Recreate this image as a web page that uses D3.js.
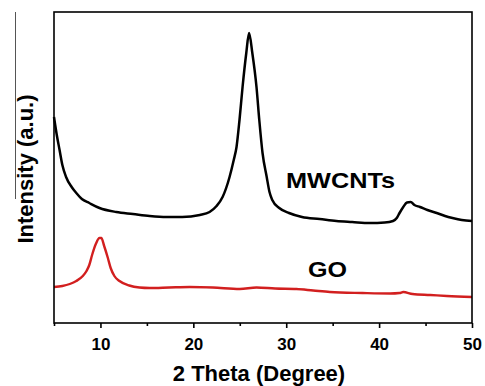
<!DOCTYPE html>
<html>
<head>
<meta charset="utf-8">
<script src="https://cdn.jsdelivr.net/npm/d3@7"></script>
<style>
  html, body { margin: 0; padding: 0; background: #fff; }
  svg { display: block; }
  text { font-family: "Liberation Sans", Arial, sans-serif; font-weight: bold; }
</style>
</head>
<body>
<figure id="xrd" style="margin:0"></figure>
<script>
// MWCNTs pattern (2 theta in degrees, intensity in a.u.)
const mwcntTheta = [5.0, 5.3, 5.6, 5.9, 6.3, 6.9, 7.4, 8.0, 8.8, 9.9, 11.7, 13.5, 15.3, 17.1, 18.8, 20.7,
  21.75, 22.5, 23.15, 23.9, 24.35, 24.65, 24.97, 25.3, 25.7, 26.0, 26.35, 26.8, 27.1, 27.45, 27.9,
  28.2, 28.5, 29.25, 30.3, 31.7, 33.6, 35.4, 37.1, 39.0, 40.6, 41.5, 41.9, 42.2, 42.6, 43.0, 43.4,
  43.8, 44.4, 45.2, 46.2, 47.1, 47.9, 48.9, 50.0];
const mwcntInt = [206, 188, 173, 158, 146, 136, 130, 124, 120, 115, 111, 109, 107, 106, 106, 108,
  111, 117, 126, 146, 163, 176, 203, 236, 270, 290, 270, 236, 203, 170, 146,
  131, 123, 115, 110, 106, 104, 102, 101, 100, 100.5, 102, 105, 110, 116, 120.5, 121,
  118, 116, 113, 110, 107, 105, 103, 102];

// GO pattern
const goTheta = [5.0, 5.9, 6.7, 7.4, 8.1, 8.5, 8.8, 9.1, 9.5, 9.9, 10.1, 10.4, 10.8, 11.1, 11.5, 12.05,
  13.1, 14.2, 15.3, 17.4, 19.6, 22.1, 25.0, 26.8, 28.8, 31.1, 32.9, 34.7, 38.2, 41.2, 42.2, 42.6,
  43.6, 45.5, 47.3, 50.0];
const goInt = [36, 37, 39, 42, 47, 52, 58, 68, 79, 85, 85, 77, 65, 55, 47, 42,
  37.5, 35.5, 35, 35.5, 36, 35.5, 34, 35.5, 34.5, 34, 32.5, 31, 30, 29.5, 30, 31,
  29, 28, 27, 26];

const majorTicks = [10, 20, 30, 40, 50];
const minorTicks = [5, 15, 25, 35, 45];

const WIDTH = 485, HEIGHT = 386;
const MARGIN = { top: 12, right: 13, bottom: 63, left: 54 };
const INNER_WIDTH = WIDTH - MARGIN.left - MARGIN.right;
const INNER_HEIGHT = HEIGHT - MARGIN.top - MARGIN.bottom;

const svg = d3.select("figure#xrd")
  .append("svg")
  .attr("width", WIDTH)
  .attr("height", HEIGHT);

const g = svg.append("g")
  .attr("transform", "translate(" + MARGIN.left + "," + MARGIN.top + ")");

const x = d3.scaleLinear()
  .domain([5, 50])
  .range([0, INNER_WIDTH]);

const y = d3.scaleLinear()
  .domain([0, 311])
  .range([INNER_HEIGHT, 0]);

// stray rule at the far left of the original scan
svg.append("line")
  .attr("x1", 15.5).attr("x2", 15.5)
  .attr("y1", 12).attr("y2", 199)
  .attr("stroke", "#555")
  .attr("stroke-width", 1);

const line = d3.line()
  .x(d => x(d[0]))
  .y(d => y(d[1]))
  .curve(d3.curveMonotoneX);

g.append("path")
  .attr("fill", "none")
  .attr("stroke", "#d21f1f")
  .attr("stroke-width", 2.4)
  .attr("d", line(d3.zip(goTheta, goInt)));

g.append("path")
  .attr("fill", "none")
  .attr("stroke", "#000")
  .attr("stroke-width", 2.5)
  .attr("stroke-linejoin", "round")
  .attr("d", line(d3.zip(mwcntTheta, mwcntInt)));

// frame
g.append("rect")
  .attr("x", 0).attr("y", 0)
  .attr("width", INNER_WIDTH)
  .attr("height", INNER_HEIGHT)
  .attr("fill", "none")
  .attr("stroke", "#000")
  .attr("stroke-width", 1.6);

// bottom axis: major ticks with labels, minor ticks without
const xAxis = d3.axisBottom(x)
  .tickValues(majorTicks)
  .tickSize(5)
  .tickPadding(10)
  .tickFormat(d3.format("d"));

const xAxisG = g.append("g")
  .attr("transform", "translate(0," + INNER_HEIGHT + ")")
  .call(xAxis);
xAxisG.select(".domain").remove();
xAxisG.selectAll("line").attr("stroke", "#000").attr("stroke-width", 1.6);
xAxisG.selectAll("text")
  .attr("fill", "#000")
  .style("font-size", "17px")
  .style("font-family", "'Liberation Sans', Arial, sans-serif")
  .style("font-weight", "bold");

const xMinor = d3.axisBottom(x)
  .tickValues(minorTicks)
  .tickSize(3)
  .tickFormat("");
const xMinorG = g.append("g")
  .attr("transform", "translate(0," + INNER_HEIGHT + ")")
  .call(xMinor);
xMinorG.select(".domain").remove();
xMinorG.selectAll("line").attr("stroke", "#000").attr("stroke-width", 1.6);

// axis titles
svg.append("text")
  .attr("x", MARGIN.left + INNER_WIDTH / 2 - 4)
  .attr("y", 381)
  .attr("text-anchor", "middle")
  .style("font-size", "22px")
  .text("2 Theta (Degree)");

svg.append("text")
  .attr("transform", "rotate(-90)")
  .attr("x", -169)
  .attr("y", 33)
  .attr("text-anchor", "middle")
  .style("font-size", "22px")
  .text("Intensity (a.u.)");

// series labels
svg.append("text")
  .attr("x", 286)
  .attr("y", 188)
  .attr("textLength", 109)
  .attr("lengthAdjust", "spacingAndGlyphs")
  .style("font-size", "22px")
  .text("MWCNTs");

svg.append("text")
  .attr("x", 308)
  .attr("y", 277)
  .attr("textLength", 39)
  .attr("lengthAdjust", "spacingAndGlyphs")
  .style("font-size", "22px")
  .text("GO");
</script>
</body>
</html>
